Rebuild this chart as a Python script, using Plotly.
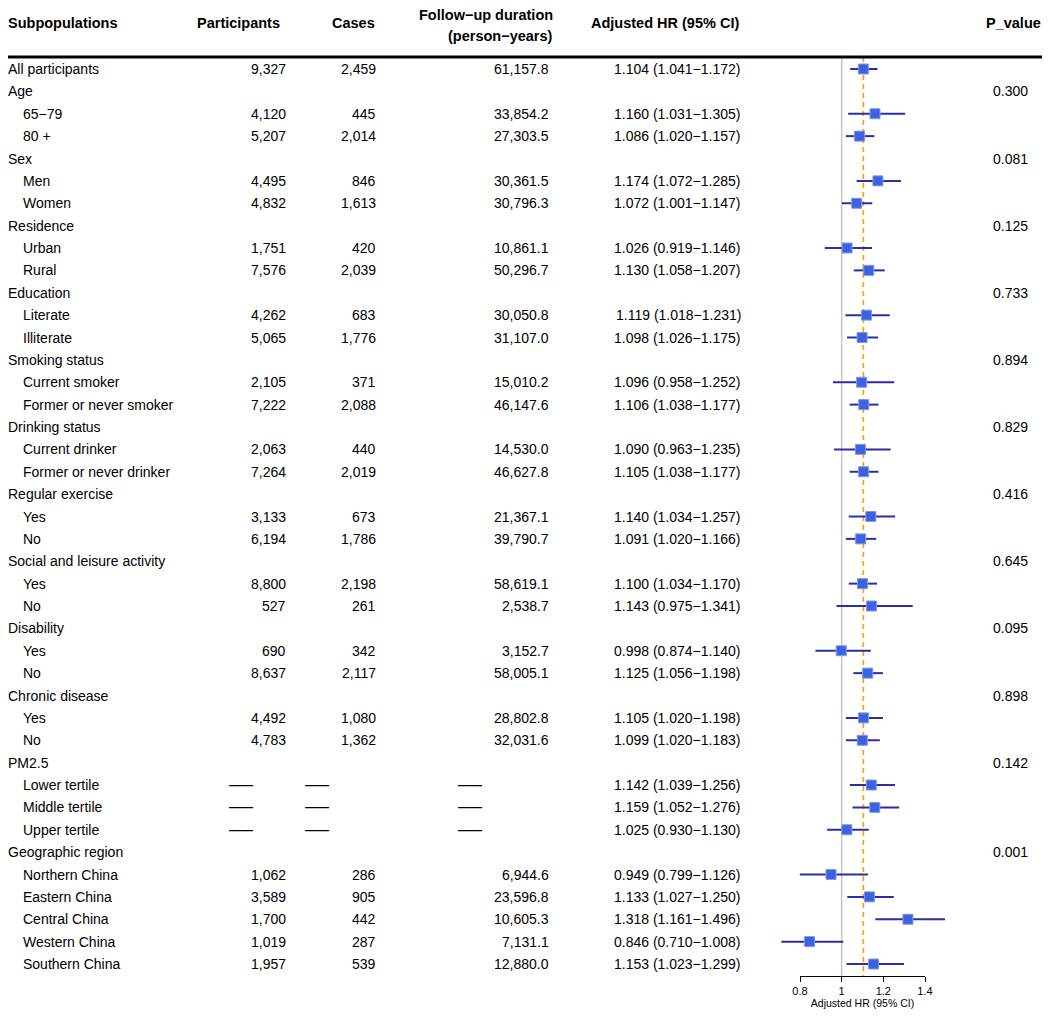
import plotly.graph_objects as go

# ---------------- data ----------------
labels = ["All participants", "Age", "65\u221279", "80 +", "Sex", "Men", "Women",
          "Residence", "Urban", "Rural", "Education", "Literate", "Illiterate",
          "Smoking status", "Current smoker", "Former or never smoker",
          "Drinking status", "Current drinker", "Former or never drinker",
          "Regular exercise", "Yes", "No", "Social and leisure activity", "Yes", "No",
          "Disability", "Yes", "No", "Chronic disease", "Yes", "No",
          "PM2.5", "Lower tertile", "Middle tertile", "Upper tertile",
          "Geographic region", "Northern China", "Eastern China", "Central China",
          "Western China", "Southern China"]
group_rows = [1, 4, 7, 10, 13, 16, 19, 22, 25, 28, 31, 35]

participants = [9327, None, 4120, 5207, None, 4495, 4832, None, 1751, 7576, None, 4262, 5065,
                None, 2105, 7222, None, 2063, 7264, None, 3133, 6194, None, 8800, 527,
                None, 690, 8637, None, 4492, 4783, None, None, None, None,
                None, 1062, 3589, 1700, 1019, 1957]
cases = [2459, None, 445, 2014, None, 846, 1613, None, 420, 2039, None, 683, 1776,
         None, 371, 2088, None, 440, 2019, None, 673, 1786, None, 2198, 261,
         None, 342, 2117, None, 1080, 1362, None, None, None, None,
         None, 286, 905, 442, 287, 539]
followup = [61157.8, None, 33854.2, 27303.5, None, 30361.5, 30796.3, None, 10861.1, 50296.7,
            None, 30050.8, 31107.0, None, 15010.2, 46147.6, None, 14530.0, 46627.8,
            None, 21367.1, 39790.7, None, 58619.1, 2538.7, None, 3152.7, 58005.1,
            None, 28802.8, 32031.6, None, None, None, None,
            None, 6944.6, 23596.8, 10605.3, 7131.1, 12880.0]
hr = [1.104, None, 1.160, 1.086, None, 1.174, 1.072, None, 1.026, 1.130, None, 1.119, 1.098,
      None, 1.096, 1.106, None, 1.090, 1.105, None, 1.140, 1.091, None, 1.100, 1.143,
      None, 0.998, 1.125, None, 1.105, 1.099, None, 1.142, 1.159, 1.025,
      None, 0.949, 1.133, 1.318, 0.846, 1.153]
hr_lo = [1.041, None, 1.031, 1.020, None, 1.072, 1.001, None, 0.919, 1.058, None, 1.018, 1.026,
         None, 0.958, 1.038, None, 0.963, 1.038, None, 1.034, 1.020, None, 1.034, 0.975,
         None, 0.874, 1.056, None, 1.020, 1.020, None, 1.039, 1.052, 0.930,
         None, 0.799, 1.027, 1.161, 0.710, 1.023]
hr_hi = [1.172, None, 1.305, 1.157, None, 1.285, 1.147, None, 1.146, 1.207, None, 1.231, 1.175,
         None, 1.252, 1.177, None, 1.235, 1.177, None, 1.257, 1.166, None, 1.170, 1.341,
         None, 1.140, 1.198, None, 1.198, 1.183, None, 1.256, 1.276, 1.130,
         None, 1.126, 1.250, 1.496, 1.008, 1.299]
p_values = [None, "0.300", None, None, "0.081", None, None, "0.125", None, None,
            "0.733", None, None, "0.894", None, None, "0.829", None, None,
            "0.416", None, None, "0.645", None, None, "0.095", None, None,
            "0.898", None, None, "0.142", None, None, None,
            "0.001", None, None, None, None, None]

headers = ["Subpopulations", "Participants", "Cases", "Follow\u2212up duration",
           "(person\u2212years)", "Adjusted HR (95% CI)", "P_value"]
axis_ticks = [0.8, 1.0, 1.2, 1.4]
axis_ticktext = ["0.8", "1", "1.2", "1.4"]
axis_title = "Adjusted HR (95% CI)"

# ---------------- layout helpers ----------------
# the page body has an 8px margin, so the figure is 8px smaller and all
# page-pixel positions below are shifted by OFF
OFF = 8
W, H = 1050 - OFF, 1016 - OFF
FONT = "Liberation Sans, Arial, sans-serif"
FS = 14
n = len(labels)
rows = list(range(n))


def px(x):
    return (x - OFF) / W


def py(y):
    return 1 - (y - OFF) / H


fig = go.Figure()

# CI lines
ci_x, ci_y = [], []
for i in rows:
    if hr[i] is not None:
        ci_x += [hr_lo[i], hr_hi[i], None]
        ci_y += [i, i, None]
fig.add_trace(go.Scatter(x=ci_x, y=ci_y, mode="lines",
                         line=dict(color="#2a2fa3", width=2),
                         hoverinfo="skip", showlegend=False))
# point estimates
pt_x = [hr[i] for i in rows if hr[i] is not None]
pt_y = [i for i in rows if hr[i] is not None]
fig.add_trace(go.Scatter(x=pt_x, y=pt_y, mode="markers",
                         marker=dict(symbol="square", size=10, color="#3c62e0",
                                     line=dict(color="#7f97ee", width=1)),
                         showlegend=False))
# invisible trace to host the visible HR axis
fig.add_trace(go.Scatter(x=[axis_ticks[0], axis_ticks[-1]], y=[0, 0], xaxis="x2", yaxis="y",
                         mode="markers", marker=dict(opacity=0), hoverinfo="skip",
                         showlegend=False))

y_top, y_bot = -0.536, n - 1 + 0.536
shapes = [
    dict(type="line", xref="x", yref="y", x0=1, x1=1, y0=y_top, y1=y_bot,
         line=dict(color="#c8c8c8", width=1.5), layer="below"),
    dict(type="line", xref="x", yref="y", x0=hr[0], x1=hr[0], y0=y_top, y1=y_bot,
         line=dict(color="#f6a41e", width=1.8, dash="5px,4px"), layer="below"),
    dict(type="line", xref="paper", yref="paper", x0=0, x1=px(1044), y0=py(57), y1=py(57),
         line=dict(color="black", width=3)),
]

ann = []


def txt(text, x, y, anchor="left", yref="y", bold=False, size=FS):
    ann.append(dict(text=f"<b>{text}</b>" if bold else text, x=px(x), xref="paper",
                    y=y, yref=yref, xanchor=anchor, yanchor="middle", showarrow=False,
                    font=dict(family=FONT, size=size, color="black")))


# header
hy = py(23)
HFS = 14.5
txt(headers[0], 6, hy, "left", "paper", True, HFS)
txt(headers[1], 282, hy, "right", "paper", True, HFS)
txt(headers[2], 377, hy, "right", "paper", True, HFS)
txt(headers[3], 555, py(15), "right", "paper", True, HFS)
txt(headers[4], 555, py(36), "right", "paper", True, HFS)
txt(headers[5], 741, hy, "right", "paper", True, HFS)
txt(headers[6], 1043, hy, "right", "paper", True, HFS)

DASH = "\u2014\u2014"
for i in rows:
    is_group = i in group_rows
    indent = 21 if (i != 0 and not is_group) else 6
    txt(labels[i], indent, i)
    if is_group:
        if p_values[i]:
            txt(p_values[i], 1010, i, "center")
        continue
    if participants[i] is not None:
        txt(f"{participants[i]:,}", 288, i, "right")
        txt(f"{cases[i]:,}", 378, i, "right")
        txt(f"{followup[i]:,.1f}", 551, i, "right")
    else:
        for cx in (241, 317, 470):
            txt(DASH, cx, i, "center", bold=True, size=12)
    if hr[i] is not None:
        txt(f"{hr[i]:.3f} ({hr_lo[i]:.3f}\u2212{hr_hi[i]:.3f})", 743, i, "right")

# axis mapping (page pixels): 0.8 -> 800, 1.4 -> 925
scale = (925 - 800) / (1.4 - 0.8)
x_min = 0.8 - (800 - OFF) / scale
x_max = 0.8 + (1050 - 800) / scale
row_h = 22.375
first_row = 69 - OFF
y_min = -first_row / row_h
y_max = (H - first_row) / row_h

fig.update_layout(
    width=W, height=H, margin=dict(l=0, r=0, t=0, b=0),
    paper_bgcolor="white", plot_bgcolor="rgba(0,0,0,0)",
    shapes=shapes, annotations=ann, showlegend=False,
    font=dict(family=FONT, color="black"),
    xaxis=dict(domain=[0, 1], range=[x_min, x_max], visible=False, fixedrange=True),
    yaxis=dict(domain=[0, 1], range=[y_max, y_min], visible=False, fixedrange=True),
    xaxis2=dict(domain=[px(800), px(925)], range=[0.8, 1.4], anchor="free",
                position=py(976), tickvals=axis_ticks, ticktext=axis_ticktext,
                ticks="outside", ticklen=5, tickwidth=1.2, tickcolor="black",
                showline=True, linecolor="black", linewidth=1.3, showgrid=False,
                zeroline=False, automargin=False, fixedrange=True,
                tickfont=dict(family=FONT, size=11, color="black"),
                title=dict(text=axis_title, font=dict(family=FONT, size=10.5),
                           standoff=2)),
)

fig.write_html("out.html")
